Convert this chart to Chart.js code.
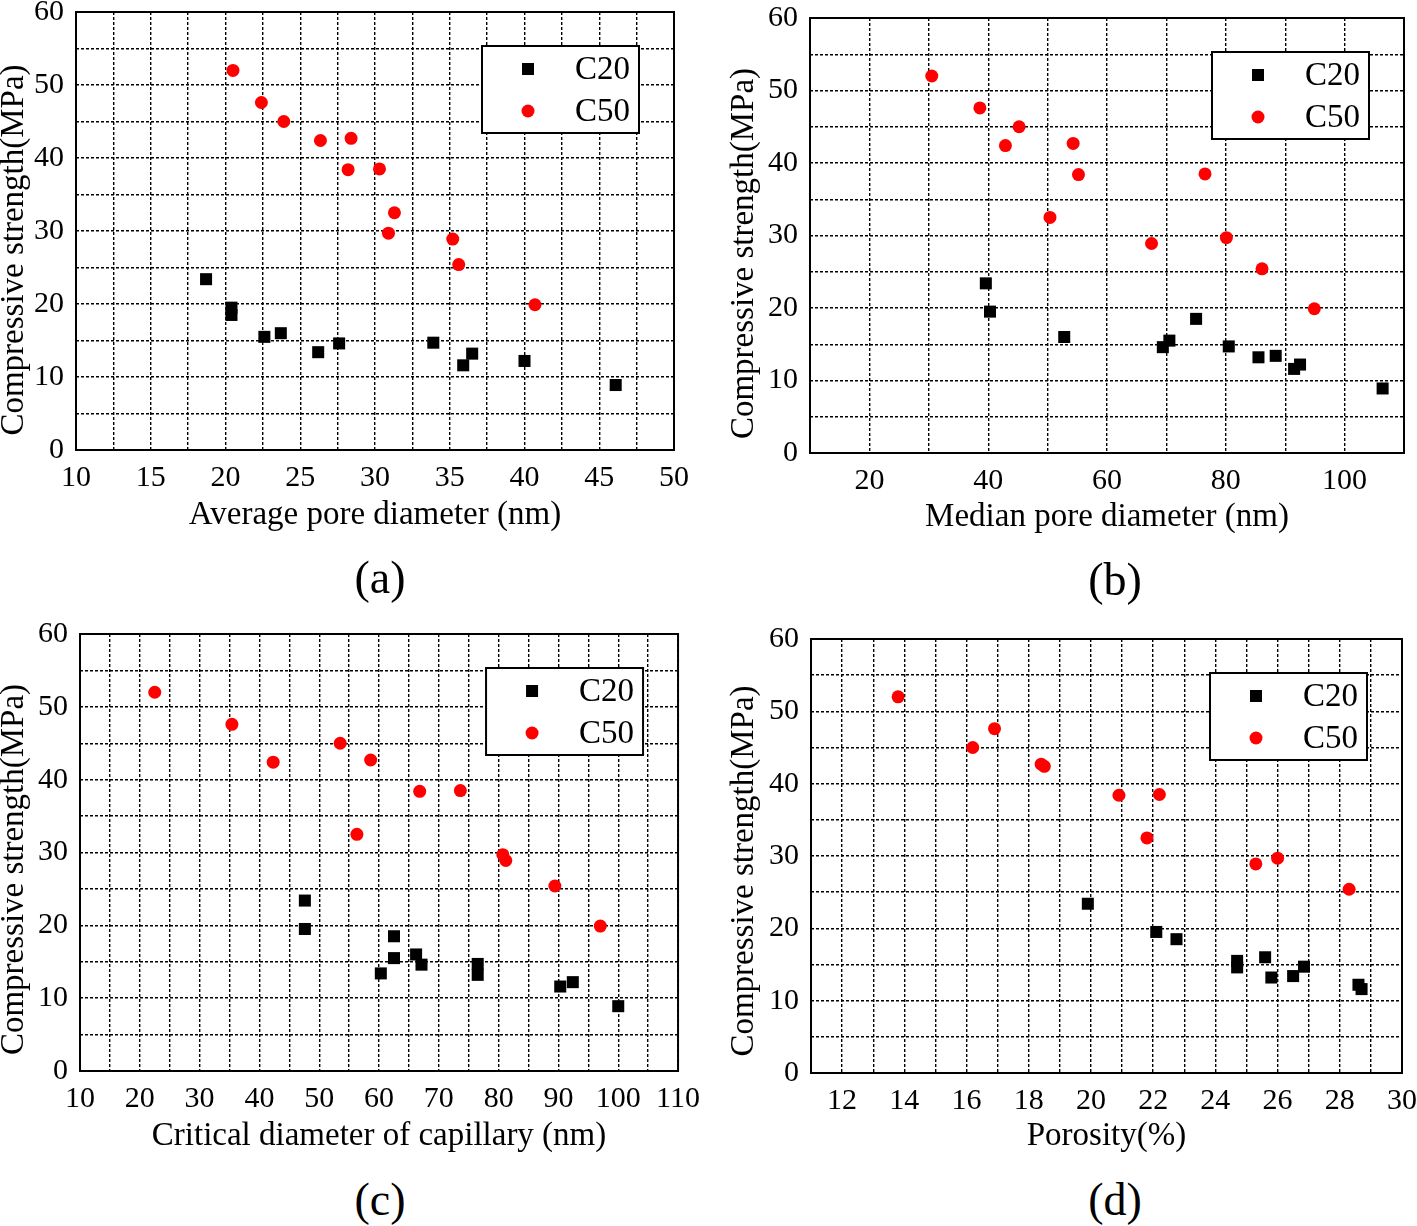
<!DOCTYPE html>
<html><head><meta charset="utf-8">
<script src="https://cdn.jsdelivr.net/npm/chart.js@4.4.1/dist/chart.umd.min.js"></script>
<style>
html,body{margin:0;padding:0;background:#fff;width:1417px;height:1226px;overflow:hidden;position:relative;}
.panel{position:absolute;}
.panel canvas{display:block;}
.cap{position:absolute;font-family:'Liberation Serif','Times New Roman',serif;font-size:46px;color:#000;transform:translateX(-50%);line-height:1;white-space:nowrap;}
</style></head><body>
<div class="panel" style="left:0px;top:-20px"><canvas id="ca" width="710" height="560"></canvas></div>
<div class="panel" style="left:720px;top:-20px"><canvas id="cb" width="697" height="563"></canvas></div>
<div class="panel" style="left:0px;top:600px"><canvas id="cc" width="710" height="561"></canvas></div>
<div class="panel" style="left:720px;top:600px"><canvas id="cd" width="709" height="563"></canvas></div>
<div class="cap" style="left:380px;top:555px">(a)</div>
<div class="cap" style="left:1115px;top:557px">(b)</div>
<div class="cap" style="left:380px;top:1177px">(c)</div>
<div class="cap" style="left:1115px;top:1177px">(d)</div>
<script>
// ---------- data ----------
const seriesNames = ['C20', 'C50'];
// compressive strength (MPa) of the specimens
const strengthC20 = [23.4, 19.5, 18.5, 15.5, 16.0, 13.4, 14.6, 14.7, 11.6, 13.2, 12.2, 8.9];
const strengthC50 = [52.0, 47.6, 45.0, 42.4, 42.7, 38.4, 38.5, 32.5, 29.7, 28.9, 25.4, 19.9];
// (a) average pore diameter (nm)
const avgPoreC20 = [18.7, 20.4, 20.4, 22.6, 23.7, 26.2, 27.6, 33.9, 35.9, 36.5, 40.0, 46.1];
const avgPoreC50 = [20.5, 22.4, 23.9, 26.35, 28.4, 28.2, 30.3, 31.3, 30.9, 35.2, 35.6, 40.7];
// (b) median pore diameter (nm)
const medPoreC20 = [39.6, 40.3, 75.0, 70.5, 52.8, 88.4, 69.4, 80.5, 91.5, 85.5, 92.5, 106.4];
const medPoreC50 = [30.5, 38.6, 45.2, 42.9, 54.3, 55.2, 76.5, 50.4, 80.1, 67.5, 86.1, 94.9];
// (c) critical diameter of capillary (nm)
const critDiaC20 = [47.6, 47.6, 62.5, 62.5, 66.2, 60.3, 67.1, 76.5, 90.3, 76.5, 92.4, 100.0];
const critDiaC50 = [22.5, 35.4, 53.5, 42.3, 58.6, 66.8, 73.6, 56.3, 80.7, 81.2, 89.4, 97.0];
// (d) porosity (%) — last specimens lie outside the plotted range
const porosityC20 = [19.9, 22.1, 22.75, 24.7, 25.6, 26.5, 24.7, 26.85, 28.7, 25.8, 28.6, null];
const porosityC50 = [13.8, 16.9, 16.2, 18.5, 18.4, 20.9, 22.2, 21.8, 26.0, 25.3, 28.3, null];
// tick labels
const yTickLabels = [0, 10, 20, 30, 40, 50, 60];
const xTickLabelsA = [10, 15, 20, 25, 30, 35, 40, 45, 50];
const xTickLabelsB = [20, 40, 60, 80, 100];
const xTickLabelsC = [10, 20, 30, 40, 50, 60, 70, 80, 90, 100, 110];
const xTickLabelsD = [12, 14, 16, 18, 20, 22, 24, 26, 28, 30];
const yTitle = 'Compressive strength(MPa)';
const xTitles = ['Average pore diameter (nm)', 'Median pore diameter (nm)', 'Critical diameter of capillary (nm)', 'Porosity(%)'];

// ---------- drawing ----------
const FONT = "'Liberation Serif','Times New Roman',serif";
const pts = (xs, ys) => xs.map((x, i) => ({x: x, y: ys[i]})).filter(p => p.x !== null);

const framePlugin = {
  id: 'frame',
  afterDatasetsDraw(chart) {
    const {ctx, chartArea: a} = chart;
    ctx.save();
    ctx.setLineDash([]);
    ctx.lineWidth = 2;
    ctx.strokeStyle = '#000';
    ctx.strokeRect(a.left, a.top, a.right - a.left, a.bottom - a.top);
    ctx.restore();
  }
};
const boxLegendPlugin = {
  id: 'boxLegend',
  afterDraw(chart, args, o) {
    const {ctx, chartArea: a} = chart;
    const x0 = a.right - o.right - o.width, y0 = a.top + o.top;
    ctx.save();
    ctx.setLineDash([]);
    ctx.fillStyle = '#fff';
    ctx.fillRect(x0, y0, o.width, o.height);
    ctx.lineWidth = 2;
    ctx.strokeStyle = '#000';
    ctx.strokeRect(x0, y0, o.width, o.height);
    chart.data.datasets.forEach((ds, i) => {
      const cy = y0 + o.rowTop + i * o.rowGap;
      ctx.fillStyle = ds.backgroundColor;
      Chart.helpers.drawPoint(ctx, {pointStyle: ds.pointStyle, radius: ds.pointRadius, borderWidth: 0, rotation: 0}, x0 + o.markerX, cy);
      ctx.fillStyle = '#000';
      ctx.font = o.fontSize + 'px ' + FONT;
      ctx.textAlign = 'left';
      ctx.textBaseline = 'middle';
      ctx.fillText(ds.label, x0 + o.textX, cy + 1);
    });
    ctx.restore();
  }
};
const yTitlePlugin = {
  id: 'yTitleDraw',
  afterDraw(chart, args, o) {
    const {ctx, chartArea: a} = chart;
    ctx.save();
    ctx.translate(o.x, (a.top + a.bottom) / 2 + o.dy);
    ctx.rotate(-Math.PI / 2);
    ctx.font = o.fontSize + 'px ' + FONT;
    ctx.fillStyle = '#000';
    ctx.textAlign = 'center';
    ctx.textBaseline = 'middle';
    ctx.fillText(chart.options.scales.y.title.text, 0, 0);
    ctx.restore();
  }
};

function makePanel(id, xsC20, xsC50, xr, xLabels, xTitle, lay) {
  const gridCommon = {color: '#000', lineWidth: 1.4, drawTicks: false};
  new Chart(document.getElementById(id), {
    type: 'scatter',
    data: {
      datasets: [
        {label: seriesNames[0], data: pts(xsC20, strengthC20), pointStyle: 'rect', pointRadius: 8.5, pointHoverRadius: 8.5,
         backgroundColor: '#000', borderColor: '#000', borderWidth: 0},
        {label: seriesNames[1], data: pts(xsC50, strengthC50), pointStyle: 'circle', pointRadius: 6.5, pointHoverRadius: 6.5,
         backgroundColor: '#ff0000', borderColor: '#ff0000', borderWidth: 0}
      ]
    },
    options: {
      responsive: false,
      animation: false,
      events: [],
      layout: {padding: {top: lay.top, right: lay.right, left: 0, bottom: 0}},
      plugins: {
        legend: {display: false},
        tooltip: {enabled: false},
        boxLegend: {right: 35, top: 34, width: 157, height: 87, rowTop: 23, rowGap: 42, markerX: 46, textX: 93, fontSize: 33},
        yTitleDraw: {x: lay.yTitleX, dy: lay.yTitleDy, fontSize: 33}
      },
      scales: {
        x: {
          type: 'linear', min: xr[0], max: xr[1],
          afterFit: s => { s.height = 90; },
          ticks: {stepSize: xr[2], autoSkip: false, maxRotation: 0, padding: 10, color: '#000',
                  font: {family: FONT, size: 30},
                  callback: v => xLabels.some(t => Math.abs(t - v) < 1e-6) ? String(v) : ''},
          grid: gridCommon,
          border: {display: false, dash: [3, 2]},
          title: {display: true, text: xTitle, color: '#000', font: {family: FONT, size: 33}, padding: {top: 0, bottom: lay.xTitlePad}}
        },
        y: {
          type: 'linear', min: 0, max: 60,
          afterFit: s => { s.width = lay.yWidth; },
          ticks: {stepSize: 5, autoSkip: false, padding: 12, color: '#000',
                  font: {family: FONT, size: 30},
                  callback: v => yTickLabels.includes(v) ? String(v) : ''},
          grid: gridCommon,
          border: {display: false, dash: [3, 2]},
          title: {display: false, text: yTitle}
        }
      }
    },
    plugins: [framePlugin, boxLegendPlugin, yTitlePlugin]
  });
}

makePanel('ca', avgPoreC20, avgPoreC50, [10, 50, 2.5], xTickLabelsA, xTitles[0],
  {top: 32, right: 36, yWidth: 76, xTitlePad: 5, yTitleX: 14, yTitleDy: 19});
makePanel('cb', medPoreC20, medPoreC50, [10, 110, 10], xTickLabelsB, xTitles[1],
  {top: 38, right: 13, yWidth: 90, xTitlePad: 6, yTitleX: 24, yTitleDy: 18});
makePanel('cc', critDiaC20, critDiaC50, [10, 110, 5], xTickLabelsC, xTitles[2],
  {top: 34, right: 31, yWidth: 80, xTitlePad: 5, yTitleX: 14, yTitleDy: 17});
makePanel('cd', porosityC20, porosityC50, [11, 30, 1], xTickLabelsD, xTitles[3],
  {top: 39, right: 27, yWidth: 91, xTitlePad: 7, yTitleX: 24, yTitleDy: 15});
</script>
</body></html>
